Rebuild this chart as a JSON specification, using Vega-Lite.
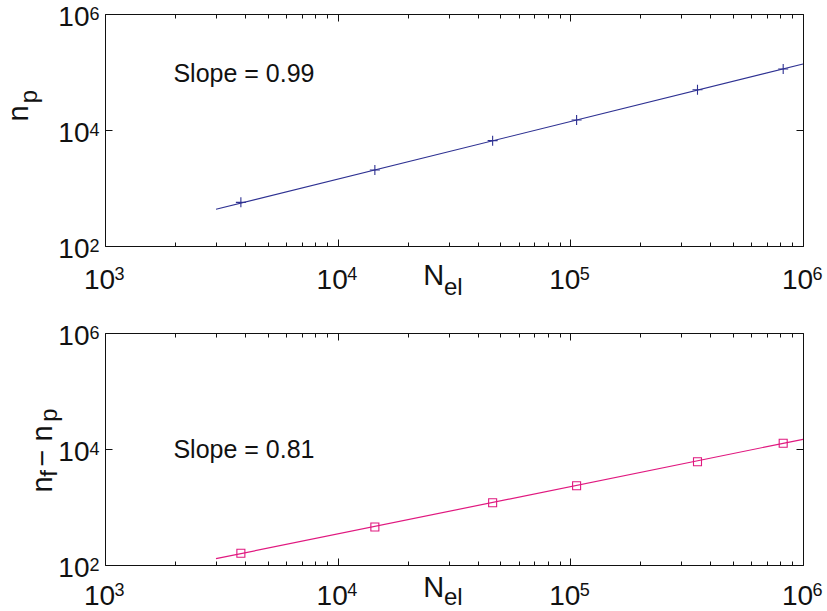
{
  "$schema": "https://vega.github.io/schema/vega-lite/v6.json",
  "autosize": "none",
  "padding": {"left": 105, "top": 14, "right": 24, "bottom": 46},
  "params": [{"name": "width", "value": 698}, {"name": "height", "value": 551}],
  "background": "white",
  "bounds": "flush",
  "spacing": 87,
  "config": {
    "font": "Liberation Sans",
    "view": {"stroke": "#111", "strokeWidth": 1},
    "axis": {"grid": false, "domain": false, "title": null, "labelColor": "#111", "tickColor": "#111", "labelFlush": false, "labelOverlap": false, "labelBound": false}
  },
  "datasets": {
    "fit_top": [{"N": 3000, "v": 430}, {"N": 1000000, "v": 137400}],
    "pts_top": [
      {"N": 3837, "v": 566}, {"N": 14450, "v": 2040}, {"N": 46350, "v": 6550},
      {"N": 106400, "v": 14860}, {"N": 352000, "v": 49500}, {"N": 822000, "v": 112700}
    ],
    "fit_bot": [{"N": 3000, "v": 128.5}, {"N": 1000000, "v": 14690}],
    "pts_bot": [
      {"N": 3837, "v": 159}, {"N": 14450, "v": 452}, {"N": 46350, "v": 1186},
      {"N": 106400, "v": 2330}, {"N": 352000, "v": 6040}, {"N": 822000, "v": 12530}
    ],
    "notes_top": [
      {"N": 1968, "v": 67300, "t": "Slope = 0.99", "kind": "slope"},
      {"N": 23300, "v": 21.3, "t": "N", "kind": "xtitle"},
      {"N": 28640, "v": 14.3, "t": "el", "kind": "xsub"},
      {"N": 467, "v": 19240, "t": "n", "kind": "ytitle"},
      {"N": 511, "v": 37850, "t": "p", "kind": "ysub"}
    ],
    "notes_bot": [
      {"N": 1968, "v": 7000, "t": "Slope = 0.81", "kind": "slope"},
      {"N": 23300, "v": 28.1, "t": "N", "kind": "xtitle"},
      {"N": 28640, "v": 20.4, "t": "el", "kind": "xsub"},
      {"N": 591, "v": 2443, "t": "n", "kind": "ytitle"},
      {"N": 591, "v": 7000, "t": "−", "kind": "ytitle"},
      {"N": 591, "v": 18490, "t": "n", "kind": "ytitle"},
      {"N": 622, "v": 3800, "t": "f", "kind": "ysub"},
      {"N": 622, "v": 38550, "t": "p", "kind": "ysub"}
    ]
  },
  "vconcat": [
    {
      "width": 698, "height": 232,
      "resolve": {"axis": {"x": "independent", "y": "independent"}},
      "layer": [
        {
          "data": {"name": "fit_top"},
          "mark": {"type": "line", "color": "#2e3192", "strokeWidth": 1.2},
          "encoding": {
            "x": {"field": "N", "type": "quantitative", "scale": {"type": "log", "domain": [1000, 1000000]},
              "axis": {"orient": "bottom", "values": [1000, 10000, 100000, 1000000], "labelExpr": "'10'", "ticks": false, "tickSize": 0, "labelFontSize": 28, "labelPadding": 20, "labelOffset": -6, "labelBaseline": "top", "labelAlign": "center"}},
            "y": {"field": "v", "type": "quantitative", "scale": {"type": "log", "domain": [100, 1000000]},
              "axis": {"orient": "left", "values": [100, 10000, 1000000], "labelExpr": "'10'", "ticks": false, "tickSize": 0, "labelFontSize": 28, "labelPadding": 16, "labelAlign": "right", "labelBaseline": "middle", "labelOffset": 3.5}}
          }
        },
        {
          "data": {"name": "pts_top"},
          "mark": {"type": "point", "shape": "M-1,0L1,0M0,-1L0,1", "filled": false, "size": 100, "strokeWidth": 1.1, "color": "#2e3192", "opacity": 1},
          "encoding": {
            "x": {"field": "N", "type": "quantitative",
              "axis": {"orient": "bottom", "values": [1000, 10000, 100000, 1000000], "labelExpr": "'' + round(log(datum.value)/LN10)", "ticks": false, "tickSize": 0, "labelFontSize": 18, "labelPadding": 19, "labelOffset": 9, "labelBaseline": "top", "labelAlign": "left"}},
            "y": {"field": "v", "type": "quantitative",
              "axis": {"orient": "left", "values": [100, 10000, 1000000], "labelExpr": "'' + round(log(datum.value)/LN10)", "ticks": false, "tickSize": 0, "labelFontSize": 18, "labelPadding": 16, "labelAlign": "left", "labelBaseline": "top", "labelOffset": -9}}
          }
        },
        {
          "data": {"name": "notes_top"},
          "transform": [{"filter": "datum.kind == 'slope'"}],
          "mark": {"type": "text", "fontSize": 25, "align": "left", "baseline": "alphabetic", "color": "#111"},
          "encoding": {
            "x": {"field": "N", "type": "quantitative",
              "axis": {"orient": "bottom", "values": [1000, 2000, 3000, 4000, 5000, 6000, 7000, 8000, 9000, 10000, 20000, 30000, 40000, 50000, 60000, 70000, 80000, 90000, 100000, 200000, 300000, 400000, 500000, 600000, 700000, 800000, 900000, 1000000], "labels": false, "tickSize": {"condition": {"test": "abs(log(datum.value)/LN10 - round(log(datum.value)/LN10)) < 0.000001", "value": -7}, "value": -4}}},
            "y": {"field": "v", "type": "quantitative",
              "axis": {"orient": "left", "values": [100, 10000, 1000000], "labels": false, "tickSize": -7}},
            "text": {"field": "t"}
          }
        },
        {
          "data": {"name": "notes_top"},
          "transform": [{"filter": "datum.kind == 'xtitle'"}],
          "mark": {"type": "text", "fontSize": 29, "align": "left", "baseline": "alphabetic", "color": "#111"},
          "encoding": {
            "x": {"field": "N", "type": "quantitative",
              "axis": {"orient": "top", "values": [1000, 2000, 3000, 4000, 5000, 6000, 7000, 8000, 9000, 10000, 20000, 30000, 40000, 50000, 60000, 70000, 80000, 90000, 100000, 200000, 300000, 400000, 500000, 600000, 700000, 800000, 900000, 1000000], "labels": false, "tickSize": {"condition": {"test": "abs(log(datum.value)/LN10 - round(log(datum.value)/LN10)) < 0.000001", "value": -7}, "value": -4}}},
            "y": {"field": "v", "type": "quantitative",
              "axis": {"orient": "right", "values": [100, 10000, 1000000], "labels": false, "tickSize": -7}},
            "text": {"field": "t"}
          }
        },
        {
          "data": {"name": "notes_top"},
          "transform": [{"filter": "datum.kind == 'xsub'"}],
          "mark": {"type": "text", "fontSize": 24, "align": "left", "baseline": "alphabetic", "color": "#111"},
          "encoding": {
            "x": {"field": "N", "type": "quantitative", "axis": null},
            "y": {"field": "v", "type": "quantitative", "axis": null},
            "text": {"field": "t"}
          }
        },
        {
          "data": {"name": "notes_top"},
          "transform": [{"filter": "datum.kind == 'ytitle'"}],
          "mark": {"type": "text", "fontSize": 29, "angle": 270, "align": "center", "baseline": "alphabetic", "color": "#111"},
          "encoding": {
            "x": {"field": "N", "type": "quantitative", "axis": null},
            "y": {"field": "v", "type": "quantitative", "axis": null},
            "text": {"field": "t"}
          }
        },
        {
          "data": {"name": "notes_top"},
          "transform": [{"filter": "datum.kind == 'ysub'"}],
          "mark": {"type": "text", "fontSize": 24, "angle": 270, "align": "center", "baseline": "alphabetic", "color": "#111"},
          "encoding": {
            "x": {"field": "N", "type": "quantitative", "axis": null},
            "y": {"field": "v", "type": "quantitative", "axis": null},
            "text": {"field": "t"}
          }
        }
      ]
    },
    {
      "width": 698, "height": 232,
      "resolve": {"axis": {"x": "independent", "y": "independent"}},
      "layer": [
        {
          "data": {"name": "fit_bot"},
          "mark": {"type": "line", "color": "#e0187f", "strokeWidth": 1.2},
          "encoding": {
            "x": {"field": "N", "type": "quantitative", "scale": {"type": "log", "domain": [1000, 1000000]},
              "axis": {"orient": "bottom", "values": [1000, 10000, 100000, 1000000], "labelExpr": "'10'", "ticks": false, "tickSize": 0, "labelFontSize": 28, "labelPadding": 17, "labelOffset": -6, "labelBaseline": "top", "labelAlign": "center"}},
            "y": {"field": "v", "type": "quantitative", "scale": {"type": "log", "domain": [100, 1000000]},
              "axis": {"orient": "left", "values": [100, 10000, 1000000], "labelExpr": "'10'", "ticks": false, "tickSize": 0, "labelFontSize": 28, "labelPadding": 16, "labelAlign": "right", "labelBaseline": "middle", "labelOffset": 3.5}}
          }
        },
        {
          "data": {"name": "pts_bot"},
          "mark": {"type": "point", "shape": "square", "filled": false, "size": 64, "strokeWidth": 1.1, "color": "#e0187f", "opacity": 1},
          "encoding": {
            "x": {"field": "N", "type": "quantitative",
              "axis": {"orient": "bottom", "values": [1000, 10000, 100000, 1000000], "labelExpr": "'' + round(log(datum.value)/LN10)", "ticks": false, "tickSize": 0, "labelFontSize": 18, "labelPadding": 16, "labelOffset": 9, "labelBaseline": "top", "labelAlign": "left"}},
            "y": {"field": "v", "type": "quantitative",
              "axis": {"orient": "left", "values": [100, 10000, 1000000], "labelExpr": "'' + round(log(datum.value)/LN10)", "ticks": false, "tickSize": 0, "labelFontSize": 18, "labelPadding": 16, "labelAlign": "left", "labelBaseline": "top", "labelOffset": -9}}
          }
        },
        {
          "data": {"name": "notes_bot"},
          "transform": [{"filter": "datum.kind == 'slope'"}],
          "mark": {"type": "text", "fontSize": 25, "align": "left", "baseline": "alphabetic", "color": "#111"},
          "encoding": {
            "x": {"field": "N", "type": "quantitative",
              "axis": {"orient": "bottom", "values": [1000, 2000, 3000, 4000, 5000, 6000, 7000, 8000, 9000, 10000, 20000, 30000, 40000, 50000, 60000, 70000, 80000, 90000, 100000, 200000, 300000, 400000, 500000, 600000, 700000, 800000, 900000, 1000000], "labels": false, "tickSize": {"condition": {"test": "abs(log(datum.value)/LN10 - round(log(datum.value)/LN10)) < 0.000001", "value": -7}, "value": -4}}},
            "y": {"field": "v", "type": "quantitative",
              "axis": {"orient": "left", "values": [100, 10000, 1000000], "labels": false, "tickSize": -7}},
            "text": {"field": "t"}
          }
        },
        {
          "data": {"name": "notes_bot"},
          "transform": [{"filter": "datum.kind == 'xtitle'"}],
          "mark": {"type": "text", "fontSize": 29, "align": "left", "baseline": "alphabetic", "color": "#111"},
          "encoding": {
            "x": {"field": "N", "type": "quantitative",
              "axis": {"orient": "top", "values": [1000, 2000, 3000, 4000, 5000, 6000, 7000, 8000, 9000, 10000, 20000, 30000, 40000, 50000, 60000, 70000, 80000, 90000, 100000, 200000, 300000, 400000, 500000, 600000, 700000, 800000, 900000, 1000000], "labels": false, "tickSize": {"condition": {"test": "abs(log(datum.value)/LN10 - round(log(datum.value)/LN10)) < 0.000001", "value": -7}, "value": -4}}},
            "y": {"field": "v", "type": "quantitative",
              "axis": {"orient": "right", "values": [100, 10000, 1000000], "labels": false, "tickSize": -7}},
            "text": {"field": "t"}
          }
        },
        {
          "data": {"name": "notes_bot"},
          "transform": [{"filter": "datum.kind == 'xsub'"}],
          "mark": {"type": "text", "fontSize": 24, "align": "left", "baseline": "alphabetic", "color": "#111"},
          "encoding": {
            "x": {"field": "N", "type": "quantitative", "axis": null},
            "y": {"field": "v", "type": "quantitative", "axis": null},
            "text": {"field": "t"}
          }
        },
        {
          "data": {"name": "notes_bot"},
          "transform": [{"filter": "datum.kind == 'ytitle'"}],
          "mark": {"type": "text", "fontSize": 29, "angle": 270, "align": "center", "baseline": "alphabetic", "color": "#111"},
          "encoding": {
            "x": {"field": "N", "type": "quantitative", "axis": null},
            "y": {"field": "v", "type": "quantitative", "axis": null},
            "text": {"field": "t"}
          }
        },
        {
          "data": {"name": "notes_bot"},
          "transform": [{"filter": "datum.kind == 'ysub'"}],
          "mark": {"type": "text", "fontSize": 24, "angle": 270, "align": "center", "baseline": "alphabetic", "color": "#111"},
          "encoding": {
            "x": {"field": "N", "type": "quantitative", "axis": null},
            "y": {"field": "v", "type": "quantitative", "axis": null},
            "text": {"field": "t"}
          }
        }
      ]
    }
  ]
}
